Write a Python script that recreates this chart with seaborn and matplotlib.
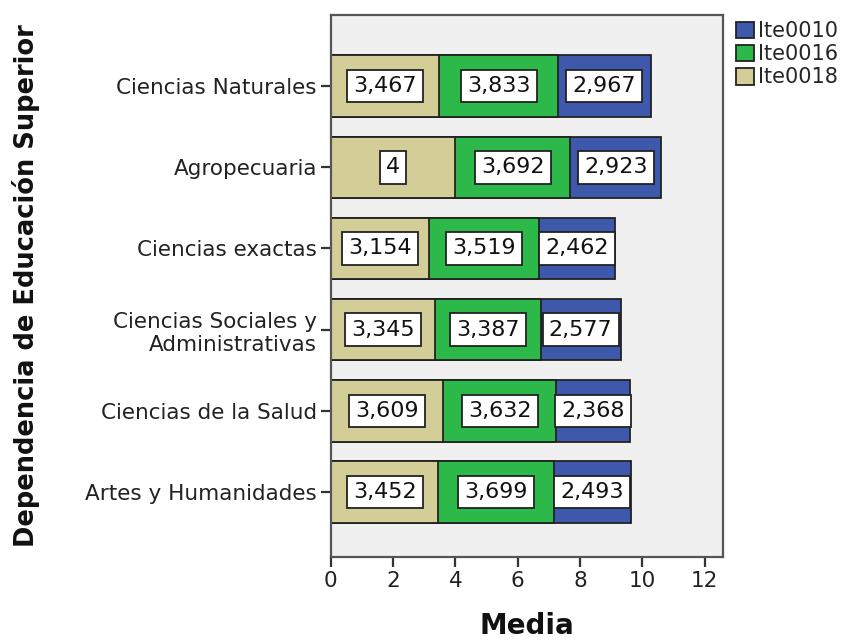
import matplotlib
matplotlib.use("Agg")
import matplotlib.pyplot as plt
import seaborn as sns
import numpy as np
import pandas as pd
from matplotlib.patches import Patch

sns.set_theme(style="white")
plt.rcParams['font.family'] = ['DejaVu Sans']

# datos
categorias = ['Ciencias Naturales', 'Agropecuaria', 'Ciencias exactas',
              'Ciencias Sociales y\nAdministrativas', 'Ciencias de la Salud',
              'Artes y Humanidades']
ite0018 = [3.467, 4.0, 3.154, 3.345, 3.609, 3.452]
ite0016 = [3.833, 3.692, 3.519, 3.387, 3.632, 3.699]
ite0010 = [2.967, 2.923, 2.462, 2.577, 2.368, 2.493]

series = ['Ite0010', 'Ite0016', 'Ite0018']
colores = {'Ite0010': '#3E58AC', 'Ite0016': '#2DB84A', 'Ite0018': '#D3CE97'}


def fmt(v):
    s = f"{v:.3f}".rstrip('0').rstrip('.')
    return s.replace('.', ',')


df = pd.DataFrame({'cat': categorias, 'Ite0018': ite0018,
                   'Ite0016': ite0016, 'Ite0010': ite0010})
df['c18'] = df['Ite0018']
df['c16'] = df['c18'] + df['Ite0016']
df['c10'] = df['c16'] + df['Ite0010']

fig = plt.figure(figsize=(8.44, 6.43), dpi=100)
ax = fig.add_axes([0.392, 0.134, 0.465, 0.843])
ax.set_facecolor('#F0F0F0')

# barras apiladas: se dibuja de la suma total hacia la primera serie
for col, nombre in [('c10', 'Ite0010'), ('c16', 'Ite0016'), ('c18', 'Ite0018')]:
    sns.barplot(data=df, x=col, y='cat', orient='h', color=colores[nombre],
                edgecolor='#222222', linewidth=1.3, width=0.76,
                saturation=1, ax=ax)

# etiquetas en cajas blancas
for i in range(len(categorias)):
    izq = 0
    for nombre in ['Ite0018', 'Ite0016', 'Ite0010']:
        v = df.loc[i, nombre]
        ax.text(izq + v / 2, i, fmt(v), ha='center', va='center', fontsize=16,
                color='#111111',
                bbox=dict(boxstyle='square,pad=0.28', fc='white', ec='#222222', lw=1.3))
        izq += v

ax.set_xlim(0, 12.6)
ax.set_ylim(5.8, -0.88)
ax.set_xticks([0, 2, 4, 6, 8, 10, 12])
ax.tick_params(axis='both', direction='out', length=7, width=1.6, color='#333333',
               labelsize=15.5, labelcolor='#222222', left=True, bottom=True)
ax.tick_params(axis='y', pad=3)
for s in ax.spines.values():
    s.set_color('#555555')
    s.set_linewidth(1.6)

ax.set_xlabel('Media', fontsize=20, fontweight='bold', labelpad=15, color='#111111')
ax.set_ylabel('Dependencia de Educación Superior', fontsize=18.5, fontweight='bold',
              color='#111111')
ax.yaxis.set_label_coords(-0.74, 0.5)

handles = [Patch(facecolor=colores[n], edgecolor='#222222', lw=1.3, label=n) for n in series]
fig.legend(handles=handles, loc='upper left', bbox_to_anchor=(0.862, 0.98),
           frameon=False, fontsize=15, handlelength=0.85, handleheight=0.85,
           handletextpad=0.2, labelspacing=0.15, borderaxespad=0)

fig.savefig('out.png', dpi=100)
